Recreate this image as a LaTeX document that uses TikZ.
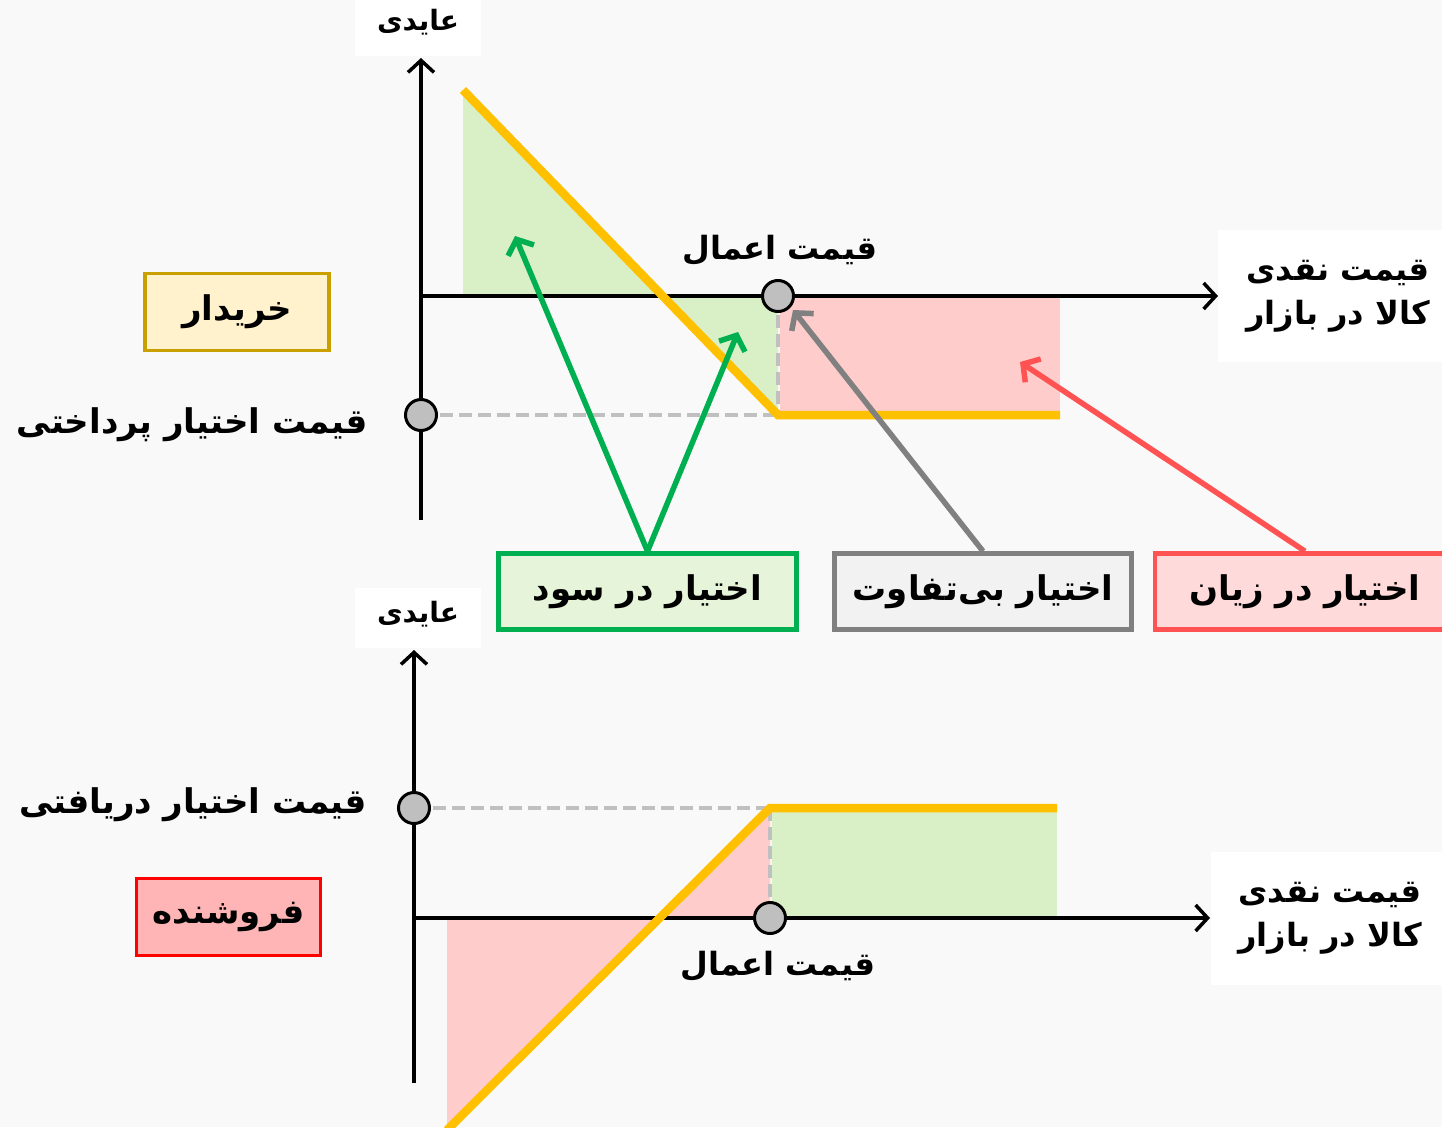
\documentclass[tikz,border=0pt]{standalone}
\usepackage{fontspec}
\newfontfamily\arabicfont[Script=Arabic]{DejaVu Sans}
\TeXXeTstate=1
\usetikzlibrary{arrows.meta}
\definecolor{bg}{HTML}{F9F9F9}
\definecolor{gold}{HTML}{FFC000}
\definecolor{guidegray}{HTML}{C0C0C0}
\definecolor{dotgray}{HTML}{BFBFBF}
\definecolor{gainfill}{HTML}{D9EFC6}
\definecolor{lossfill}{HTML}{FFCCCC}
\definecolor{gainline}{HTML}{00B050}
\definecolor{neutline}{HTML}{808080}
\definecolor{lossline}{HTML}{FF5353}
\definecolor{buyfill}{HTML}{FFF2CC}
\definecolor{buyline}{HTML}{C9A000}
\definecolor{sellfill}{HTML}{FFB5B5}
\definecolor{gainbox}{HTML}{E6F4DA}
\definecolor{neutbox}{HTML}{F2F2F2}
\definecolor{lossbox}{HTML}{FFDADA}
\newcommand\fatext[1]{{\arabicfont\bfseries\beginR #1\endR}}
\begin{document}
\begin{tikzpicture}[x=1pt,y=-1pt,
  axisline/.style={line width=3.5pt,-{Straight Barb[length=12pt,width=26pt]}},
  payoff/.style={line width=8.5pt,draw=gold,line join=miter},
  guide/.style={line width=4.5pt,draw=guidegray,dash pattern=on 13pt off 6pt},
  dotnode/.style={circle,fill=dotgray,draw=black,line width=3pt,minimum size=31pt,inner sep=0pt},
  lab/.style={inner sep=0pt,font=\fontsize{32}{44}\selectfont},
  sidelab/.style={inner sep=0pt,font=\fontsize{34}{44}\selectfont},
  whitebox/.style={fill=white,inner sep=0pt,align=center},
  tagbox/.style={line width=4.5pt,minimum height=76pt,inner sep=0pt,font=\fontsize{34}{40}\selectfont},
  pointer/.style={line width=5.5pt,-{Straight Barb[length=12pt,width=28pt]}}
]
\useasboundingbox (0,0) rectangle (1442,1127);
\clip (0,0) rectangle (1442,1127);
\fill[bg] (0,0) rectangle (1442,1127);

% ---------- top chart (buyer) ----------
\fill[gainfill] (463,90) -- (463,296) -- (662,296) -- cycle;
\fill[gainfill] (662,296) -- (778,296) -- (778,415) -- cycle;
\fill[lossfill] (780,296) rectangle (1060,415);
\draw[guide] (421,415) -- (778,415);
\draw[guide] (778,296) -- (778,415);
\node[whitebox,minimum width=126pt,minimum height=56pt] (ytop) at (418,28) {};
\node[lab,font=\fontsize{28}{34}\selectfont] (ytoplab) at (418,22) {\fatext{عایدی}};
\coordinate (ybot1) at (421,520);
\coordinate (xl1) at (421,296);
\node[whitebox,minimum width=224pt,minimum height=132pt] (xtop) at (1330,296) {};
\draw[axisline] (ybot1) -- (421,58);
\draw[axisline] (xl1) -- (1218,296);
\draw[payoff] (463,90) -- (778,415) -- (1060,415);
\node[dotnode] (s1) at (778,296) {};
\node[dotnode] (p1) at (421,415) {};
\node[lab] (s1lab) at (780,250) {\fatext{قیمت اعمال}};
\node[lab,align=center] (xtoplab) at (1338,296) {\fatext{قیمت نقدی}\\\fatext{کالا در بازار}};
\node[sidelab] (p1lab) at (192,425) {\fatext{قیمت اختیار پرداختی}};
\node[tagbox,fill=buyfill,draw=buyline,line width=3.5pt,minimum width=184pt,minimum height=77pt] (buyer) at (237,312) {\fatext{خریدار}};

% ---------- tag boxes and pointers ----------
\node[tagbox,fill=gainbox,draw=gainline,minimum width=298pt] (gain) at (647.5,591.5) {\fatext{اختیار در سود}};
\node[tagbox,fill=neutbox,draw=neutline,minimum width=297pt] (neut) at (983,591.5) {\fatext{اختیار بی‌تفاوت}};
\node[tagbox,fill=lossbox,draw=lossline,minimum width=300pt] (loss) at (1305,591.5) {\fatext{اختیار در زیان}};
\coordinate (g1) at (515,236);
\coordinate (g2) at (738,332);
\coordinate (n1) at (793,310);
\coordinate (l1) at (1020,362);
\draw[pointer,draw=gainline] (gain.north) -- (g1);
\draw[pointer,draw=gainline] (gain.north) -- (g2);
\draw[pointer,draw=neutline] (neut.north) -- (n1);
\draw[pointer,draw=lossline] (loss.north) -- (l1);

% ---------- bottom chart (seller) ----------
\fill[lossfill] (447,918) -- (447,1130) -- (452,1130) -- (659,918) -- cycle;
\fill[lossfill] (659,918) -- (770,808) -- (770,918) -- cycle;
\fill[gainfill] (772,808) rectangle (1057,918);
\draw[guide] (414,808) -- (770,808);
\draw[guide] (770,808) -- (770,918);
\node[whitebox,minimum width=126pt,minimum height=60pt] (ybox2) at (418,618) {};
\node[lab,font=\fontsize{28}{34}\selectfont] (ylab2) at (418,614) {\fatext{عایدی}};
\node[whitebox,minimum width=231pt,minimum height=133pt] (xbox2) at (1326,918) {};
\coordinate (ybot2) at (414,1083);
\coordinate (xl2) at (414,918);
\draw[axisline] (ybot2) -- (414,650);
\draw[axisline] (xl2) -- (1210,918);
\draw[payoff] (447,1130) -- (770,808) -- (1057,808);
\node[dotnode] (s2) at (770,918) {};
\node[dotnode] (p2) at (414,808) {};
\node[lab] (s2lab) at (778,966) {\fatext{قیمت اعمال}};
\node[lab,align=center] (xlab2) at (1330,918) {\fatext{قیمت نقدی}\\\fatext{کالا در بازار}};
\node[sidelab] (p2lab) at (193,805) {\fatext{قیمت اختیار دریافتی}};
\node[tagbox,fill=sellfill,draw=red,line width=3.5pt,minimum width=184pt,minimum height=77pt] (seller) at (228.5,917) {\fatext{فروشنده}};
\end{tikzpicture}
\end{document}
